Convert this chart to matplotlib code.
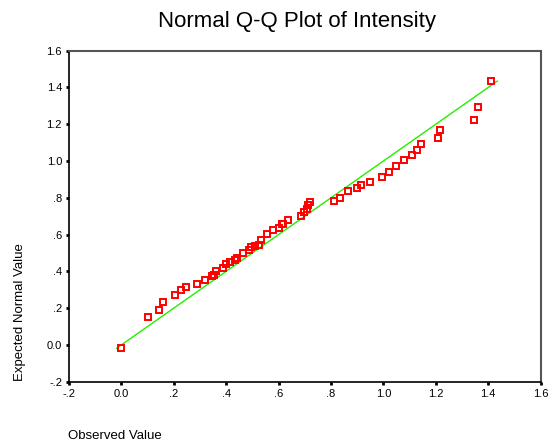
import matplotlib
matplotlib.use("Agg")
import matplotlib.pyplot as plt
from matplotlib.ticker import FixedLocator, FixedFormatter

plt.rcParams['font.family'] = ['Liberation Sans', 'DejaVu Sans']

# Q-Q pairs: observed intensity vs expected normal value
observed = [0.000, 0.103, 0.145, 0.158, 0.206, 0.226, 0.247, 0.288, 0.320, 0.347,
            0.353, 0.362, 0.386, 0.400, 0.414, 0.432, 0.442, 0.464, 0.486, 0.496,
            0.511, 0.524, 0.533, 0.557, 0.580, 0.603, 0.614, 0.618, 0.635, 0.687,
            0.697, 0.707, 0.712, 0.719, 0.811, 0.836, 0.864, 0.900, 0.913, 0.948,
            0.993, 1.020, 1.049, 1.077, 1.109, 1.127, 1.143, 1.207, 1.216, 1.345,
            1.363, 1.410]
expected = [-0.018, 0.153, 0.188, 0.233, 0.273, 0.300, 0.315, 0.333, 0.352, 0.374,
            0.378, 0.401, 0.419, 0.439, 0.453, 0.460, 0.473, 0.499, 0.518, 0.532,
            0.539, 0.543, 0.570, 0.605, 0.623, 0.637, 0.656, 0.659, 0.678, 0.703,
            0.721, 0.741, 0.760, 0.776, 0.784, 0.800, 0.835, 0.853, 0.868, 0.888,
            0.913, 0.940, 0.973, 1.006, 1.032, 1.059, 1.092, 1.124, 1.170, 1.223,
            1.295, 1.435]

ticks = [-0.2, 0.0, 0.2, 0.4, 0.6, 0.8, 1.0, 1.2, 1.4, 1.6]
tick_labels = ['-.2', '0.0', '.2', '.4', '.6', '.8', '1.0', '1.2', '1.4', '1.6']

fig = plt.figure(figsize=(5.59, 4.46), dpi=100)
ax = fig.add_axes([0.1234, 0.1442, 0.8436, 0.7421])

# reference line y = x over the span of the data
lo = min(min(observed), min(expected))
hi = max(max(observed), max(expected))
ax.plot([lo, hi], [lo, hi], color='#22ee00', lw=1.0, zorder=2)

ax.plot(observed, expected, linestyle='none', marker='s', markersize=4.6,
        markerfacecolor='none', markeredgecolor='#ff0000', markeredgewidth=1.4,
        zorder=3)

ax.set_xlim(-0.2, 1.6)
ax.set_ylim(-0.2, 1.6)
for axis in (ax.xaxis, ax.yaxis):
    axis.set_major_locator(FixedLocator(ticks))
    axis.set_major_formatter(FixedFormatter(tick_labels))
ax.tick_params(direction='out', length=2, width=2, labelsize=8, pad=3,
               color='black')

ax.spines['left'].set_color('black')
ax.spines['bottom'].set_color('black')
ax.spines['left'].set_linewidth(1.2)
ax.spines['bottom'].set_linewidth(1.2)
ax.spines['top'].set_color('#555555')
ax.spines['right'].set_color('#555555')
ax.spines['top'].set_linewidth(1.5)
ax.spines['right'].set_linewidth(1.5)

fig.text(0.532, 0.952, 'Normal Q-Q Plot of Intensity', ha='center', va='center',
         fontsize=16)
fig.text(0.036, 0.30, 'Expected Normal Value', rotation=90, ha='center',
         va='center', fontsize=9.5)
fig.text(0.1216, 0.0224, 'Observed Value', ha='left', va='center', fontsize=9.5)

fig.savefig('out.png', dpi=100)
